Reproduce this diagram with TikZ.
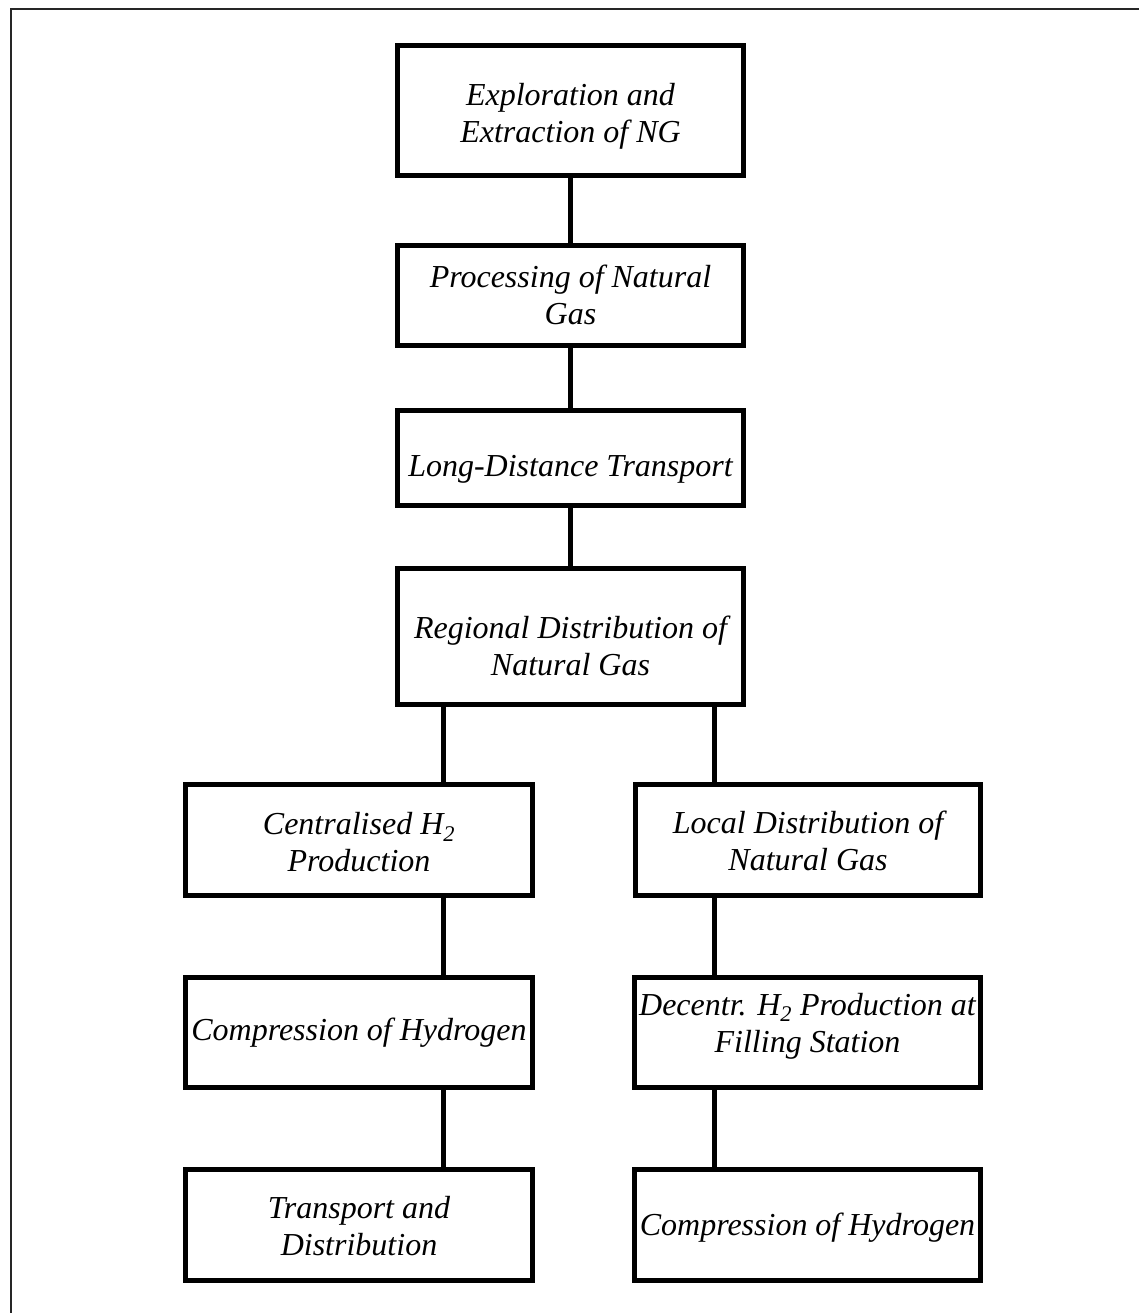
\documentclass[tikz,border=0pt]{standalone}
\usepackage{fontspec}
\setmainfont{Liberation Serif}
\begin{document}
\begin{tikzpicture}[x=1pt,y=-1pt,
  stagebox/.style={draw=black,line width=5pt,fill=white,inner sep=0pt,
     minimum width=#1-5pt},
  stagebox/.default=351pt,
  label/.style={inner sep=0pt,align=center,font=\fontsize{32}{37}\selectfont\itshape},
  link/.style={line width=5pt}]
\useasboundingbox (0,0) rectangle (1139,1313);
\clip (0,0) rectangle (1139,1313);
\fill[white] (0,0) rectangle (1139,1313);
% outer frame (extends beyond the page at right and bottom)
\draw[line width=2pt,black!85] (1160,9) -- (11,9) -- (11,1340);

% boxes
\node[stagebox, minimum height=130pt] (b1) at (570.5,110.5) {};
\node[stagebox, minimum height=100pt] (b2) at (570.5,295.5) {};
\node[stagebox, minimum height=95pt]  (b3) at (570.5,458) {};
\node[stagebox, minimum height=136pt] (b4) at (570.5,636.5) {};
\node[stagebox=352pt, minimum height=111pt] (b5) at (359,840) {};
\node[stagebox=350pt, minimum height=111pt] (b6) at (808,840) {};
\node[stagebox=352pt, minimum height=110pt] (b7) at (359,1032.5) {};
\node[stagebox=351pt, minimum height=110pt] (b8) at (807.5,1032.5) {};
\node[stagebox=352pt, minimum height=111pt] (b9) at (359,1225) {};
\node[stagebox=351pt, minimum height=111pt] (b10) at (807.5,1225) {};

% texts
\node[label] (t1) at (570.5,116) {Exploration and\\Extraction of NG};
\node[label] (t2) at (570.5,295) {Processing of Natural\\Gas};
\node[label] (t3) at (570.5,469.5) {Long-Distance Transport};
\node[label] (t4) at (570.5,646) {Regional Distribution of\\Natural Gas};
\node[label] (t5) at (359,842.5) {Centralised H\textsubscript{2}\\Production};
\node[label] (t6) at (808,840.5) {Local Distribution of\\Natural Gas};
\node[label] (t7) at (359,1033) {Compression of Hydrogen};
\node[label] (t8) at (807.5,1026) {Decentr. H\textsubscript{2} Production at\\Filling Station};
\node[label] (t9) at (359,1226.5) {Transport and\\Distribution};
\node[label] (t10) at (807.5,1228) {Compression of Hydrogen};

% connector columns
\coordinate (cx) at (570,0);
\coordinate (lx) at (443,0);
\coordinate (rx) at (714,0);

\draw[link] (b1.south -| cx) -- (b2.north -| cx);
\draw[link] (b2.south -| cx) -- (b3.north -| cx);
\draw[link] (b3.south -| cx) -- (b4.north -| cx);
\draw[link] (b4.south -| lx) -- (b5.north -| lx);
\draw[link] (b4.south -| rx) -- (b6.north -| rx);
\draw[link] (b5.south -| lx) -- (b7.north -| lx);
\draw[link] (b7.south -| lx) -- (b9.north -| lx);
\draw[link] (b6.south -| rx) -- (b8.north -| rx);
\draw[link] (b8.south -| rx) -- (b10.north -| rx);
\end{tikzpicture}
\end{document}
